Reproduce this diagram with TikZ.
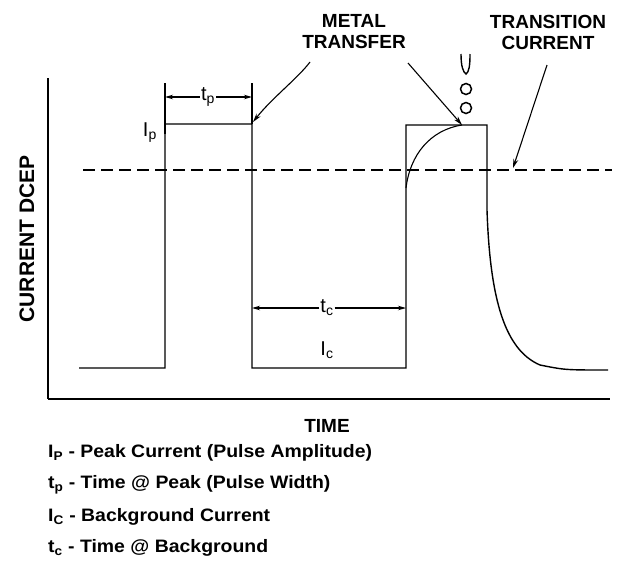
\documentclass[tikz,border=0pt]{standalone}
\usepackage{fontspec}
\setmainfont{Liberation Sans}
\newfontfamily\legendfont{Liberation Sans}[FakeStretch=1.08]
\usetikzlibrary{arrows.meta}
\tikzset{
  wave/.style={line width=1.4pt, line join=miter},
  lbl/.style={font=\bfseries\fontsize{19}{21}\selectfont, align=center, inner sep=0pt},
  sym/.style={font=\fontsize{20}{22}\selectfont, inner sep=1pt},
  pointer/.style={line width=1.1pt, -{Stealth[length=9pt,width=5pt]}},
  dimarrow/.style={line width=1.1pt, -{Stealth[length=8pt,width=4.5pt]}},
  legend/.style={font=\legendfont\bfseries\fontsize{18}{20}\selectfont, anchor=west, inner sep=0pt},
  drop/.style={circle, draw, line width=1.5pt, minimum size=11pt, inner sep=0pt}
}
\begin{document}
\begin{tikzpicture}[x=1pt,y=-1pt]
\useasboundingbox (0,0) rectangle (636,587);
% axes
\coordinate (O) at (48,399);
\coordinate (ytop) at (48,78);
\coordinate (xend) at (610,399);
\draw[line width=1.4pt] (ytop) -- (O);
\draw[line width=2.8pt] (O) -- (xend);
\node[lbl, font=\bfseries\fontsize{21}{23}\selectfont, rotate=90] (ylab) at (27,239) {CURRENT DCEP};
\node[lbl] (xlab) at (327,426) {TIME};

% pulse train
\coordinate (a0) at (79,368);
\coordinate (a1) at (165,368);
\coordinate (a2) at (165,124);
\coordinate (a3) at (252,124);
\coordinate (a4) at (252,368);
\coordinate (a5) at (406,368);
\coordinate (a6) at (406,125);
\coordinate (a7) at (487,125);
\coordinate (a8) at (487,210);
\coordinate (a9) at (608,370);
\draw[wave] (a0) -- (a1) -- (a2) -- (a3) -- (a4) -- (a5) -- (a6) -- (a7) -- (a8)
  .. controls (490,300) and (505,350) .. (540,365) .. controls (565,370) .. (a9);

% rise inside second pulse
\coordinate (r0) at (406,188);
\coordinate (r1) at (462,125);
\draw[line width=1.1pt] (r0) .. controls (410,155) and (430,130) .. (r1);

% transition level
\coordinate (d0) at (83,170);
\coordinate (d1) at (612,170);
\draw[line width=1.3pt, dash pattern=on 12pt off 6pt] (d0) -- (d1);

% pulse width
\coordinate (k1) at (165,83);
\coordinate (k2) at (252,83);
\draw[line width=1.1pt] (k1) -- ([yshift=-10pt]k1 |- a2);
\draw[line width=1.1pt] (k2) -- (k2 |- a3);
\node[sym] (tp) at (208,97) {t\textsubscript{p}};
\draw[dimarrow] (tp.west) -- (tp.west -| a2);
\draw[dimarrow] (tp.east) -- (tp.east -| a3);
\node[sym, anchor=east] (Ip) at (158,133) {I\textsubscript{p}};

% background width
\node[sym] (tc) at (327,308) {t\textsubscript{c}};
\draw[dimarrow] (tc.west) -- (tc.west -| a4);
\draw[dimarrow] (tc.east) -- (tc.east -| a5);
\node[sym] (Ic) at (327,350) {I\textsubscript{c}};

% droplet
\draw[line width=1.4pt] (461,54) .. controls (461,66) and (463,72) .. (466,74)
  .. controls (469,72) and (470,66) .. (470,54);
\node[drop] (drop1) at (466,89) {};
\node[drop] (drop2) at (466,108) {};

% callouts
\node[lbl] (mt) at (354,32) {METAL\\TRANSFER};
\node[lbl] (tr) at (548,32) {TRANSITION\\CURRENT};
\coordinate (m1) at (310,62);
\coordinate (m2) at (408,63);
\coordinate (t1) at (547,65);
\coordinate (t2) at (513,168);
\draw[pointer] (m1) .. controls (298,78) and (272,98) .. ([shift={(1,-2)}]a3);
\draw[pointer] (m2) -- (r1);
\draw[pointer] (t1) -- (t2);

% legend
\node[legend] (lg1) at (48,453) {I\textsubscript{P} - Peak Current (Pulse Amplitude)};
\node[legend] (lg2) at (48,485) {t\textsubscript{p} - Time @ Peak (Pulse Width)};
\node[legend] (lg3) at (48,517) {I\textsubscript{C} - Background Current};
\node[legend] (lg4) at (48,548) {t\textsubscript{c} - Time @ Background};
\end{tikzpicture}
\end{document}
